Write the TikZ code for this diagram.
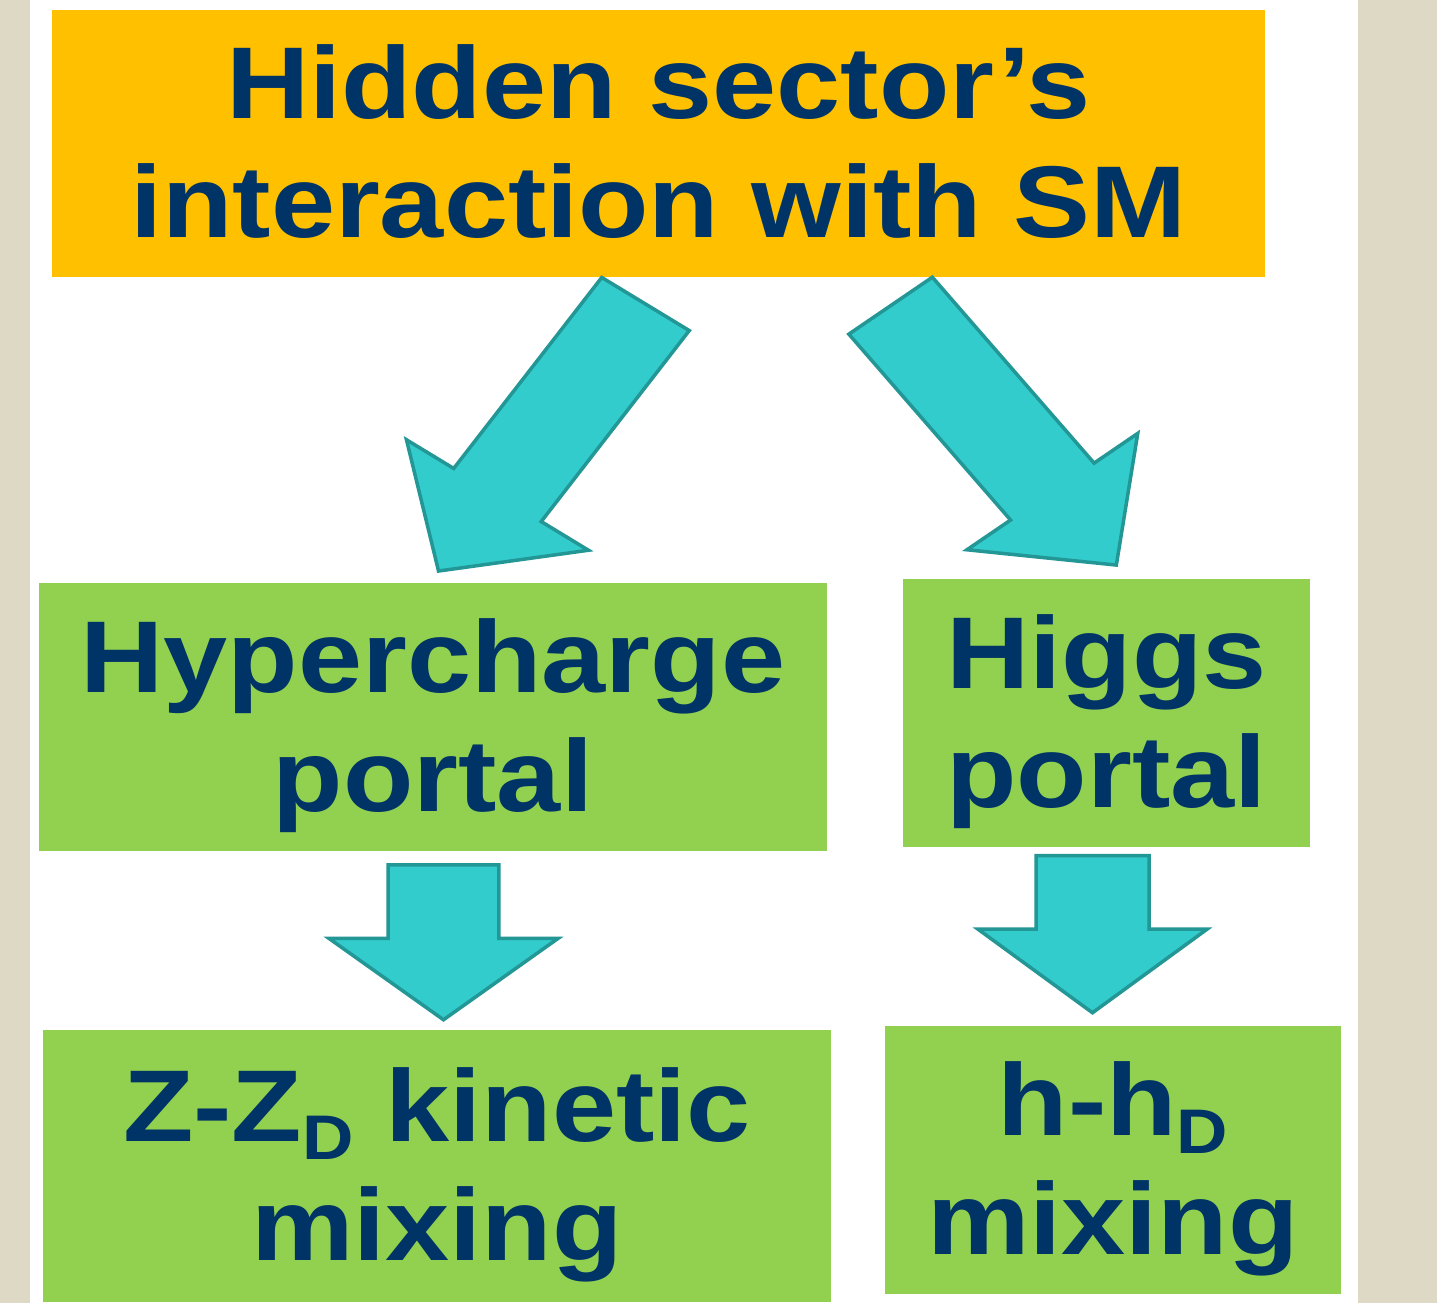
\documentclass[tikz,border=0pt]{standalone}
\usepackage{fontspec}
\setmainfont{Liberation Sans}[FakeStretch=1.13]
\usetikzlibrary{shapes.arrows}

\definecolor{sectororange}{HTML}{FFC000}
\definecolor{portalgreen}{HTML}{92D050}
\definecolor{slidenavy}{HTML}{003366}
\definecolor{flowfill}{HTML}{33CCCC}
\definecolor{flowline}{HTML}{239696}
\definecolor{slidetan}{HTML}{DDD9C4}
\newcommand{\darksub}{\raisebox{-18pt}{\fontsize{63}{63}\selectfont D}}
\newcommand{\topstrut}{\rule{0pt}{91pt}}
\newcommand{\botstrut}{\rule[-22pt]{0pt}{22pt}}

\begin{document}
\begin{tikzpicture}[x=1pt, y=-1pt,
	box/.style={shape=rectangle, inner sep=0pt, align=center, text=slidenavy, font=\bfseries\fontsize{102}{119}\selectfont},
	flow/.style={single arrow, fill=flowfill, draw=flowline, line width=3.5pt, inner xsep=0pt, anchor=tip, allow upside down, xscale=1.13}]
		% Slide background:
		\fill[slidetan] (0, 0) rectangle (1437, 1303);
		\fill[white] (30, 0) rectangle (1358, 1303);
		% Boxes:
		\node[box, fill=sectororange, minimum width=1213pt, minimum height=267pt] (hidden) at (658.5, 143.5){\topstrut Hidden sector's\\interaction with SM\botstrut};
		\node[box, fill=portalgreen, minimum width=788pt, minimum height=268pt] (hyper) at (433, 717){\topstrut Hypercharge\\portal\botstrut};
		\node[box, fill=portalgreen, minimum width=407pt, minimum height=268pt] (higgs) at (1106.5, 713){\topstrut Higgs\\portal\botstrut};
		\node[box, fill=portalgreen, minimum width=788pt, minimum height=272pt] (kinetic) at (437, 1166){\topstrut Z-Z\darksub{} kinetic\\mixing\botstrut};
		\node[box, fill=portalgreen, minimum width=456pt, minimum height=268pt] (hmix) at (1113, 1160){\topstrut h-h\darksub\\mixing\botstrut};
		% Block arrows, placed by their tips (stretched like the slide):
		\node[flow, minimum height=323.8pt, inner ysep=45.2pt, single arrow head extend=50.7pt, single arrow tip angle=93.3, rotate=235.55] (tohyper) at (437, 573){};
		\node[flow, minimum height=327.4pt, inner ysep=44.9pt, single arrow head extend=48.75pt, single arrow tip angle=91.6, rotate=-52.4] (tohiggs) at (1118, 567){};
		\node[flow, minimum height=155pt, inner ysep=47.35pt, single arrow head extend=52.2pt, single arrow tip angle=102.5, rotate=-90] (tokinetic) at (443.5, 1022){};
		\node[flow, minimum height=157pt, inner ysep=48.25pt, single arrow head extend=51.3pt, single arrow tip angle=101, rotate=-90] (tohmix) at (1092.5, 1015){};
	\end{tikzpicture}
\end{document}
